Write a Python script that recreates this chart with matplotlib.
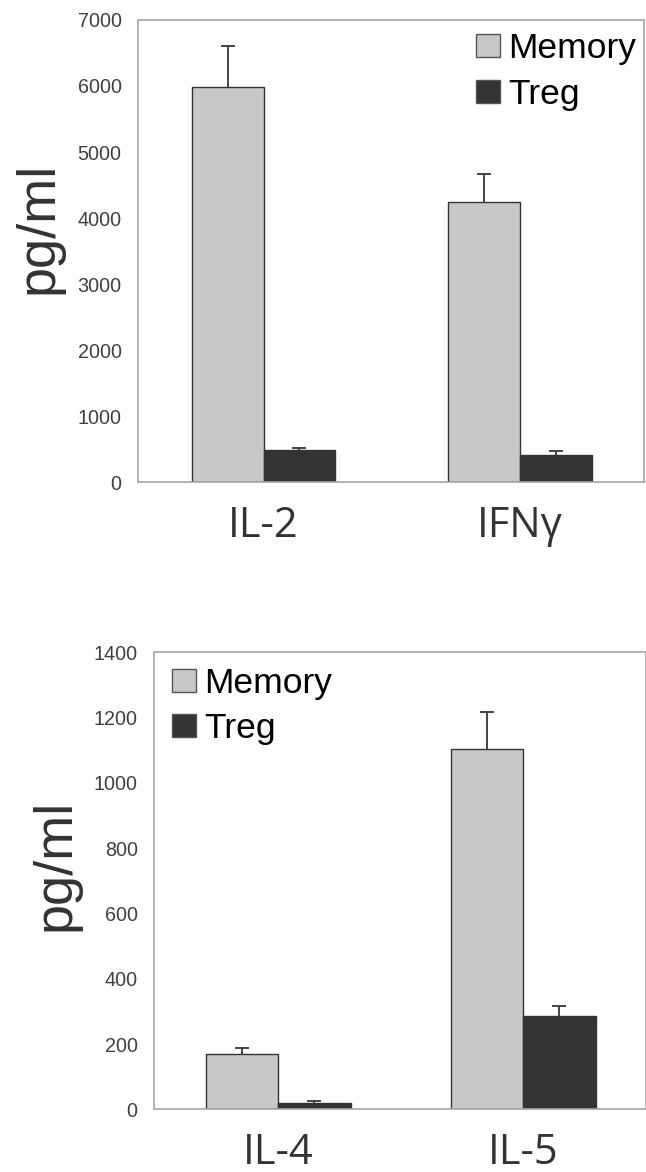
import matplotlib
matplotlib.use("Agg")
import matplotlib.pyplot as plt
import numpy as np

# ---- data ----
series = ["Memory", "Treg"]

top_categories = ["IL-2", "IFNγ"]
top_memory = [5990, 4245]
top_memory_err = [610, 420]
top_treg = [489, 413]
top_treg_err = [26, 66]
top_yticks = [0, 1000, 2000, 3000, 4000, 5000, 6000, 7000]

bot_categories = ["IL-4", "IL-5"]
bot_memory = [168, 1103]
bot_memory_err = [19, 114]
bot_treg = [20, 287]
bot_treg_err = [6, 29]
bot_yticks = [0, 200, 400, 600, 800, 1000, 1200, 1400]

MEM_COLOR = "#c8c8c8"
TREG_COLOR = "#333333"
EDGE = "#333333"
SPINE = "#a6a6a6"

plt.rcParams["font.family"] = ["Liberation Sans", "DejaVu Sans"]

fig = plt.figure(figsize=(6.46, 11.72), dpi=100)


def upper_errorbar(ax, x, y, err):
    eb = ax.errorbar(x, y, yerr=[np.zeros(len(y)), err], fmt="none",
                     ecolor="#444444", elinewidth=1.4, capsize=5,
                     capthick=1.4, zorder=1)
    # hide the lower caps (they sit on the bar tops)
    if len(eb[1]) > 0:
        eb[1][0].set_visible(False)


def panel(rect, cats, mem, mem_err, treg, treg_err, yticks, width, xlim,
          ylabel_xy, legend_xy):
    ax = fig.add_axes(rect)
    x = np.arange(len(cats))
    ax.bar(x - width / 2, mem, width, color=MEM_COLOR, edgecolor=EDGE,
           linewidth=1.0, label=series[0], zorder=2)
    ax.bar(x + width / 2, treg, width, color=TREG_COLOR, edgecolor=EDGE,
           linewidth=1.0, label=series[1], zorder=2)
    upper_errorbar(ax, x - width / 2, mem, mem_err)
    upper_errorbar(ax, x + width / 2, treg, treg_err)
    ax.set_xlim(*xlim)
    ax.set_ylim(yticks[0], yticks[-1])
    ax.set_yticks(yticks)
    ax.set_yticklabels([str(t) for t in yticks], fontsize=14.2, color="#404040")
    ax.set_xticks(x)
    ax.set_xticklabels(cats, fontsize=30, color="#333333",
                       family=["Open Sans", "DejaVu Sans"])
    ax.tick_params(axis="y", length=0, pad=12)
    ax.tick_params(axis="x", length=0, pad=16.5)
    for s in ax.spines.values():
        s.set_color(SPINE)
        s.set_linewidth(1.2)
    ax.set_ylabel("pg/ml", fontsize=39, color="#333333", va="center")
    ax.yaxis.set_label_coords(*ylabel_xy)
    leg = ax.legend(loc="upper left", bbox_to_anchor=legend_xy, frameon=False,
                    fontsize=25.5, handlelength=0.68, handleheight=0.62,
                    handletextpad=0.23, labelspacing=0.35, borderpad=0,
                    borderaxespad=0)
    for h in leg.legend_handles:
        h.set_edgecolor("#555555")
        h.set_linewidth(1.0)
    return ax


panel([0.2141, 0.5885, 0.7828, 0.3945], top_categories, top_memory,
      top_memory_err, top_treg, top_treg_err, top_yticks, 0.279,
      (-0.488, 1.483), (-0.198, 0.55), (0.668, 0.973))

panel([0.2389, 0.0535, 0.7604, 0.3899], bot_categories, bot_memory,
      bot_memory_err, bot_treg, bot_treg_err, bot_yticks, 0.295,
      (-0.506, 1.499), (-0.201, 0.535), (0.0366, 0.969))

fig.savefig("out.png", dpi=100)
